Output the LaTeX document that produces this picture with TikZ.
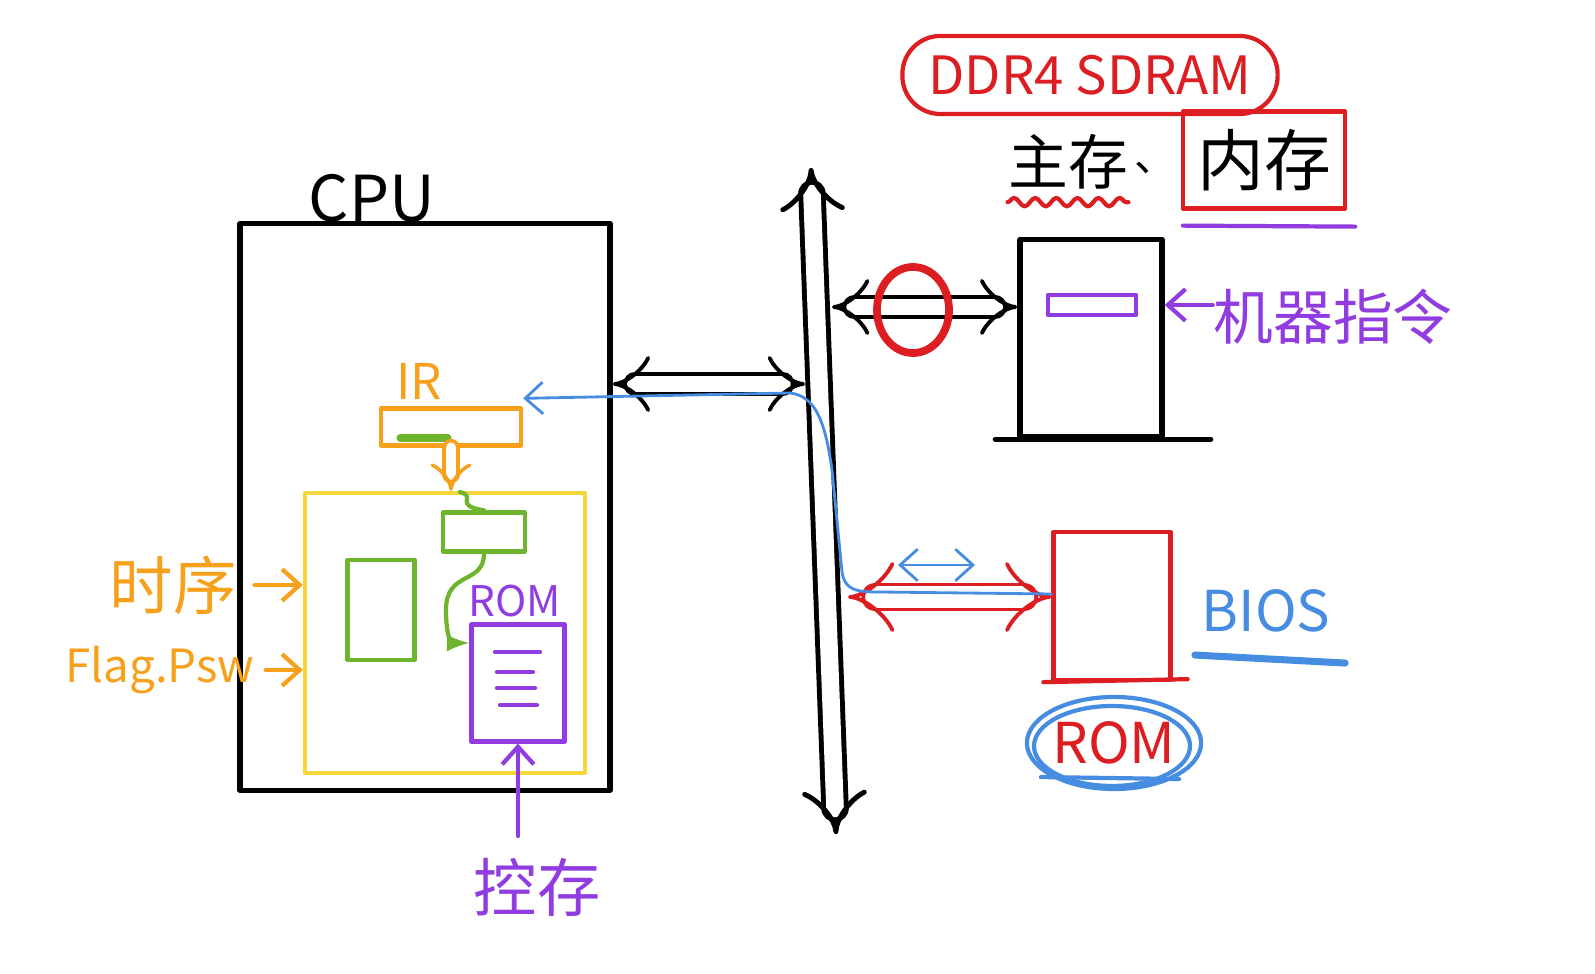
\documentclass[tikz,border=0pt]{standalone}
\usepackage{fontspec}
\setmainfont{Noto Sans CJK SC}
\usetikzlibrary{arrows.meta,calc,shapes,decorations.pathmorphing}
\definecolor{orangepen}{RGB}{247,160,28}
\definecolor{yellowpen}{RGB}{245,215,60}
\definecolor{greenpen}{RGB}{110,180,45}
\definecolor{purplepen}{RGB}{145,60,225}
\definecolor{redpen}{RGB}{220,30,35}
\definecolor{bluepen}{RGB}{70,140,225}

\begin{document}
\begin{tikzpicture}[x=0.01cm, y=-0.01cm, line cap=round, line join=round,
                    >={Straight Barb[length=5pt, width=9pt]},
                    ink/.style={draw=black, line width=1.5pt},
                    pen/.style={line width=1.2pt},
                    box/.style={draw, inner sep=0pt},
                    dblarrow/.style={double, double distance=4.5pt, line width=1.1pt, {Implies}-{Implies}},
                    hand/.style={font=\fontsize{#1}{#1}\selectfont, inner sep=0pt}]
                    \useasboundingbox (0,0) rectangle (1595,974);
                    \node (cpu) [box, ink, minimum width=3.70cm, minimum height=5.66cm] at (425,507) {};
                    \node (cpu label) [hand=18pt] at (372,198) {CPU};
                    \node (ir label) [hand=14pt, text=orangepen] at (419,381) {IR};
                    \node (ir) [box, pen, draw=orangepen, minimum width=1.40cm, minimum height=0.37cm] at (451,427) {};
                    \draw [greenpen, line width=2pt] (400,438) -- (448,438);
                    \node (cu) [box, pen, draw=yellowpen, minimum width=2.80cm, minimum height=2.80cm] at (445,633) {};
                    \draw [dblarrow, orangepen, line width=1pt, double distance=3pt, -{Implies}] (ir.south) -- (ir.south |- cu.north);
                    \node (reg) [box, pen, draw=greenpen, minimum width=0.67cm, minimum height=1.00cm] at (381,610) {};
                    \node (dec) [box, pen, draw=greenpen, minimum width=0.82cm, minimum height=0.39cm] at (484,532) {};
                    \coordinate (ir in) at (460,492);
                    \draw [pen, greenpen] (ir in) .. controls (478,497) and (452,505) .. (dec.north);
                    \node (rom label) [hand=12pt, text=purplepen] at (515,601) {ROM};
                    \node (rom) [box, pen, draw=purplepen, minimum width=0.93cm, minimum height=1.17cm] at (518,683) {};
                    \draw [pen, greenpen, -latex] (dec.south) .. controls (484,585) and (446,570) .. (446,610) .. controls (446,645) and (455,643) .. (rom.west |- 0,643);
                    \foreach \y/\a/\b in {652/495/540, 672/497/533, 688/497/535, 705/500/537}
                        \draw [pen, purplepen] (\a,\y) -- (\b,\y);
                    \node (kongcun) [hand=18pt, text=purplepen] at (537,887) {控存};
                    \draw [pen, purplepen, ->, shorten <=6pt] (kongcun.north -| rom.south) -- (rom.south);
                    \node (timing) [hand=18pt, text=orangepen] at (173,585) {时序};
                    \draw [pen, orangepen, ->, shorten <=5pt] (timing.east) -- (timing.east -| cu.west);
                    \node (flag) [hand=13pt, text=orangepen] at (160,670) {Flag.Psw};
                    \draw [pen, orangepen, ->, shorten <=3pt] (flag.east) -- (flag.east -| cu.west);

                    \coordinate (bus top) at (811,168);
                    \coordinate (bus bottom) at (836,834);
                    \draw [dblarrow, line width=1.4pt, double distance=5pt] (bus top) -- (bus bottom);
                    \coordinate (bus cpu) at (805,384);
                    \draw [dblarrow] (cpu.east |- bus cpu) -- (bus cpu);

                    \node (mem) [box, ink, minimum width=1.42cm, minimum height=1.97cm] at (1091,338) {};
                    \draw [ink] ($(mem.south west)+(-22,0)$) -- ($(mem.south east)+(46,0)$);
                    \coordinate (bus mem) at (832,307);
                    \draw [dblarrow] (bus mem) -- (bus mem -| mem.west);
                    \node (mark) [draw=redpen, line width=2.2pt, ellipse, minimum width=0.72cm, minimum height=0.86cm] at (913,310) {};
                    \node (instr) [box, pen, draw=purplepen, minimum width=0.88cm, minimum height=0.20cm] at (1092,305) {};
                    \node (instr label) [hand=17pt, text=purplepen] at (1333,317) {机器指令};
                    \draw [pen, purplepen, ->] (instr label.west |- instr) -- (mem.east |- instr);

                    \node (ddr) [draw=redpen, pen, rounded corners=0.38cm, minimum width=3.75cm, minimum height=0.78cm, hand=15pt, text=redpen] at (1090,75) {DDR4 SDRAM};
                    \node (main mem) [hand=17pt] at (1068,162) {主存};
                    \draw [redpen, pen, decorate, decoration={snake, amplitude=1.2pt, segment length=6pt}] ($(main mem.south west)+(0,12)$) -- ($(main mem.south east)+(0,12)$);
                    \node (dun) [hand=12pt] at (1156,168) {、};
                    \node (inner mem) [hand=19pt, draw=redpen, pen, minimum width=1.62cm, minimum height=0.97cm] at (1264,160) {内存};
                    \draw [purplepen, pen] ($(inner mem.south west)+(2,15)$) -- ($(inner mem.south east)+(8,16)$);

                    \node (bios) [box, pen, draw=redpen, minimum width=1.17cm, minimum height=1.48cm] at (1112,606) {};
                    \draw [pen, redpen] ($(bios.south west)+(-8,0)$) -- ($(bios.south east)+(15,-3)$);
                    \coordinate (bus bios) at (848,597);
                    \draw [dblarrow, redpen, double distance=6pt] (bus bios) -- (bus bios -| bios.west);
                    \coordinate (small l) at (898,565);
                    \coordinate (small r) at (975,565);
                    \draw [bluepen, line width=0.8pt, <->] (small l) -- (small r);
                    \node (bios label) [hand=16pt, text=bluepen] at (1266,611) {BIOS};
                    \draw [bluepen, line width=2pt] ($(bios label.south west)+(-6,22)$) -- ($(bios label.south east)+(14,30)$);
                    \node (bios rom) [draw=bluepen, pen, ellipse, minimum width=1.68cm, minimum height=0.92cm, hand=16pt, text=redpen] at (1114,743) {ROM};
                    \draw [bluepen, pen] (1112,746) ellipse [x radius=78, y radius=40];
                    \draw [bluepen, pen] ($(bios rom.south west)+(-10,0)$) -- ($(bios rom.south east)+(2,2)$);

                    \draw [bluepen, line width=0.8pt, <-] ($(ir.north east)+(0,-8)$) -- (790,393) .. controls (815,396) and (825,420) .. (832,470) -- (842,572) .. controls (845,590) and (855,592) .. (880,592) -- (bios.west |- 0,594);
                \end{tikzpicture}
\end{document}
